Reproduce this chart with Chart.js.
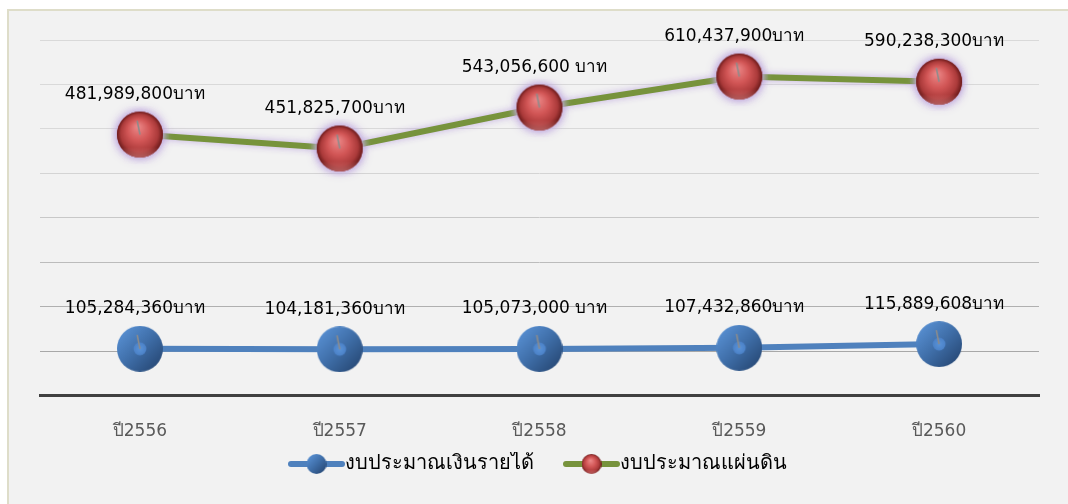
<!DOCTYPE html>
<html>
<head>
<meta charset="utf-8">
<script src="https://cdn.jsdelivr.net/npm/chart.js@4/dist/chart.umd.min.js"></script>
<style>
  html, body { margin: 0; padding: 0; background: #ffffff; width: 1068px; height: 504px; overflow: hidden; }
  #wrap { position: absolute; left: 7px; top: 9px; width: 1061px; height: 495px; box-sizing: border-box;
          border-left: 2px solid #deddc9; border-top: 2px solid #deddc9; background: #f2f2f2; }
  #c { display: block; }
</style>
</head>
<body>
<div id="wrap"><canvas id="c" width="1059" height="493"></canvas></div>
<script>
// ---- data ----
const categories = ['ปี2556', 'ปี2557', 'ปี2558', 'ปี2559', 'ปี2560'];
const incomeBudget = [105284360, 104181360, 105073000, 107432860, 115889608];      // งบประมาณเงินรายได้
const nationalBudget = [481989800, 451825700, 543056600, 610437900, 590238300];    // งบประมาณแผ่นดิน
const incomeLabels = ['105,284,360บาท', '104,181,360บาท', '105,073,000 บาท', '107,432,860บาท', '115,889,608บาท'];
const nationalLabels = ['481,989,800บาท', '451,825,700บาท', '543,056,600 บาท', '610,437,900บาท', '590,238,300บาท'];
const seriesNames = ['งบประมาณเงินรายได้', 'งบประมาณแผ่นดิน'];

const FONT = "'DejaVu Sans', Tahoma, sans-serif";

function sphere(r, pad, kind, withTick) {
  const c = document.createElement('canvas');
  const s = 2 * (r + pad);
  c.width = s; c.height = s;
  const g = c.getContext('2d');
  const cx = s / 2, cy = s / 2;
  if (kind === 'red') {
    if (pad > 2) {
      g.save();
      g.shadowColor = 'rgba(195,172,222,0.95)';
      g.shadowBlur = pad * 1.4;
      g.beginPath(); g.arc(cx, cy, r, 0, Math.PI * 2); g.fillStyle = '#a84040'; g.fill();
      g.restore();
    }
    const gr = g.createRadialGradient(cx - r * 0.1, cy - r * 0.35, r * 0.05, cx, cy, r);
    gr.addColorStop(0, '#ea8585');
    gr.addColorStop(0.45, '#d25656');
    gr.addColorStop(0.8, '#ab3a3a');
    gr.addColorStop(1, '#6a1a1a');
    g.beginPath(); g.arc(cx, cy, r, 0, Math.PI * 2); g.fillStyle = gr; g.fill();
    const rf = g.createLinearGradient(0, cy + r * 0.55, 0, cy + r);
    rf.addColorStop(0, 'rgba(240,140,140,0)');
    rf.addColorStop(1, 'rgba(240,150,150,0.55)');
    g.beginPath(); g.arc(cx, cy, r, 0, Math.PI * 2); g.fillStyle = rf; g.fill();
  } else {
    const gr = g.createLinearGradient(cx - r, cy - r, cx + r, cy + r);
    gr.addColorStop(0, '#5e98dd');
    gr.addColorStop(0.5, '#3f6ea8');
    gr.addColorStop(1, '#22406a');
    g.beginPath(); g.arc(cx, cy, r, 0, Math.PI * 2); g.fillStyle = gr; g.fill();
    if (withTick) {
      const gi = g.createRadialGradient(cx, cy, 0, cx, cy, r * 0.3);
      gi.addColorStop(0, '#5a93d8'); gi.addColorStop(1, '#4a80c6');
      g.beginPath(); g.arc(cx, cy, r * 0.28, 0, Math.PI * 2); g.fillStyle = gi; g.fill();
    }
  }
  if (withTick) {
    g.strokeStyle = '#8c8c8c'; g.lineWidth = 1.6;
    g.beginPath(); g.moveTo(cx, cy); g.lineTo(cx - r * 0.12, cy - r * 0.6); g.stroke();
  }
  return c;
}

// legend icon: transparent left part gives the gap between legend items
function legendIcon(kind, W) {
  const h = 24, lineLen = 57;
  const c = document.createElement('canvas');
  c.width = W; c.height = h;
  const g = c.getContext('2d');
  const x0 = W - lineLen;
  g.strokeStyle = kind === 'red' ? '#77933c' : '#4f81bd';
  g.lineWidth = 6; g.lineCap = 'round';
  g.beginPath(); g.moveTo(x0 + 3, h / 2); g.lineTo(W - 3, h / 2); g.stroke();
  const sp = sphere(10, 0, kind, false);
  g.drawImage(sp, x0 + lineLen / 2 - sp.width / 2, h / 2 - sp.height / 2);
  return c;
}

const redPt = sphere(23, 6, 'red', true);
const bluePt = sphere(23, 0, 'blue', true);
const BOXW = 74;
const ICONW = 94;
const legendIcons = [legendIcon('blue', ICONW), legendIcon('red', ICONW)];

const glowPlugin = {
  id: 'glow',
  beforeDatasetDraw(chart, args) {
    const ctx = chart.ctx;
    ctx.save();
    if (args.index === 1) {
      ctx.shadowColor = 'rgba(190,168,222,0.95)';
      ctx.shadowBlur = 7;
    }
  },
  afterDatasetDraw(chart) { chart.ctx.restore(); }
};

const legendShift = {
  id: 'legendShift',
  afterLayout(chart) {
    const lg = chart.legend;
    if (lg) { lg.left -= 17; lg.right -= 17; }
  }
};

const labelPlugin = {
  id: 'valueLabels',
  afterDatasetsDraw(chart) {
    const ctx = chart.ctx;
    ctx.save();
    ctx.font = '17px ' + FONT;
    ctx.fillStyle = '#000000';
    ctx.textAlign = 'center';
    ctx.textBaseline = 'middle';
    const sets = [incomeLabels, nationalLabels];
    sets.forEach((labels, di) => {
      const meta = chart.getDatasetMeta(di);
      meta.data.forEach((pt, i) => {
        ctx.fillText(labels[i], pt.x - 5, pt.y - 40);
      });
    });
    ctx.restore();
  }
};

const gridColors = ['#dcdcdc', '#a8a8a8', '#b0b0b0', '#bcbcbc', '#c8c8c8', '#d4d4d4', '#d9d9d9', '#d9d9d9', '#d9d9d9'];

new Chart(document.getElementById('c'), {
  type: 'line',
  data: {
    labels: categories,
    datasets: [
      {
        label: seriesNames[0],
        data: incomeBudget,
        borderColor: '#4f81bd',
        borderWidth: 6,
        pointStyle: bluePt,
        pointRadius: 23,
        pointHoverRadius: 23,
        tension: 0,
        stack: 's'
      },
      {
        label: seriesNames[1],
        data: nationalBudget,
        borderColor: '#77933c',
        borderWidth: 6,
        pointStyle: redPt,
        pointRadius: 23,
        pointHoverRadius: 23,
        tension: 0,
        stack: 's'
      }
    ]
  },
  options: {
    responsive: false,
    animation: false,
    events: [],
    layout: { padding: { left: 31, right: 26, top: 27, bottom: 20 } },
    scales: {
      x: {
        offset: true,
        grid: { display: false, drawTicks: false },
        border: { display: true, color: '#404040', width: 3 },
        ticks: { color: '#595959', font: { family: FONT, size: 17 }, padding: 26 },
        afterFit(scale) { scale.height -= 16; }
      },
      y: {
        stacked: true,
        min: 0,
        max: 800000000,
        ticks: { display: false, stepSize: 100000000 },
        grid: { drawTicks: false, lineWidth: 1, color: (ctx) => gridColors[ctx.index] || '#d9d9d9' },
        border: { display: false }
      }
    },
    plugins: {
      legend: {
        position: 'bottom',
        labels: {
          usePointStyle: true,
          pointStyleWidth: BOXW,
          padding: 2,
          color: '#000000',
          font: { family: FONT, size: 20 },
          generateLabels(chart) {
            return chart.data.datasets.map((ds, i) => ({
              text: ds.label,
              pointStyle: legendIcons[i],
              datasetIndex: i,
              fontColor: '#000000',
              hidden: false,
              lineWidth: 0
            }));
          }
        }
      },
      tooltip: { enabled: false }
    }
  },
  plugins: [glowPlugin, labelPlugin, legendShift]
});
</script>
</body>
</html>
